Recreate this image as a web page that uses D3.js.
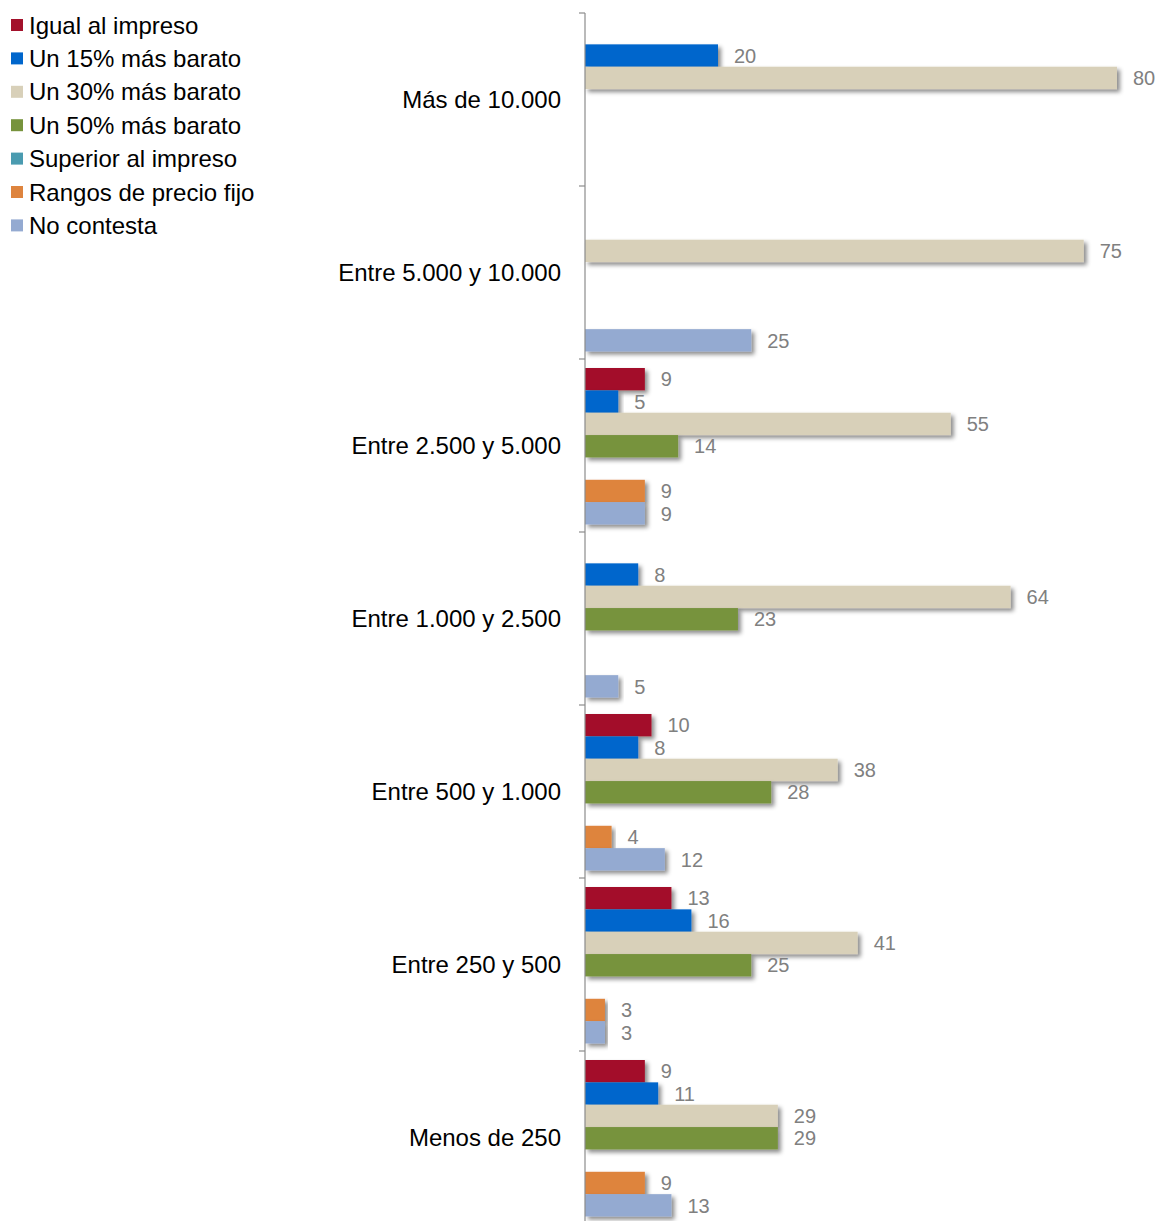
<!DOCTYPE html>
<html><head><meta charset="utf-8">
<script src="https://cdn.jsdelivr.net/npm/d3@7"></script>
<style>body{margin:0;background:#fff;}svg{display:block;font-family:"Liberation Sans",Arial,sans-serif;}</style>
</head><body>
<svg id="c" width="1159" height="1221"></svg>
<script>
const categories = ["Más de 10.000","Entre 5.000 y 10.000","Entre 2.500 y 5.000","Entre 1.000 y 2.500","Entre 500 y 1.000","Entre 250 y 500","Menos de 250"];
const seriesNames = ["Igual al impreso","Un 15% más barato","Un 30% más barato","Un 50% más barato","Superior al impreso","Rangos de precio fijo","No contesta"];
const seriesColors = ["#A3112B","#0066CC","#D8D0B9","#77933C","#4A9BB0","#DE843E","#94AAD1"];
const igualAlImpreso     = [null, null, 9, null, 10, 13, 9];
const un15MasBarato      = [20, null, 5, 8, 8, 16, 11];
const un30MasBarato      = [80, 75, 55, 64, 38, 41, 29];
const un50MasBarato      = [null, null, 14, 23, 28, 25, 29];
const superiorAlImpreso  = [null, null, null, null, null, null, null];
const rangosPrecioFijo   = [null, null, 9, null, 4, 3, 9];
const noContesta         = [null, 25, 9, 5, 12, 3, 13];
const seriesValues = [igualAlImpreso, un15MasBarato, un30MasBarato, un50MasBarato, superiorAlImpreso, rangosPrecioFijo, noContesta];

const svg = d3.select("#c");
const defs = svg.append("defs");
const f = defs.append("filter").attr("id","sh").attr("x","-5%").attr("y","-30%").attr("width","120%").attr("height","180%");
f.append("feDropShadow").attr("dx",3).attr("dy",3).attr("stdDeviation",2.2).attr("flood-color","#000").attr("flood-opacity",0.45);

const axisX = 585;
const y0 = d3.scaleBand().domain(categories).range([13, 1224]).padding(0);
const y1 = d3.scaleBand().domain(seriesNames).range([9, 165.5]).padding(0);
const x = d3.scaleLinear().domain([0, 80]).range([axisX, 1117]);

// bars
const g = svg.append("g");
categories.forEach((cat, ci) => {
  const cg = g.append("g").attr("transform", `translate(0,${y0(cat)})`);
  seriesNames.forEach((s, si) => {
    const v = seriesValues[si][ci];
    if (v == null) return;
    cg.append("rect")
      .attr("x", x(0)).attr("y", y1(s))
      .attr("width", x(v) - x(0)).attr("height", y1.bandwidth())
      .attr("fill", seriesColors[si]).attr("filter","url(#sh)");
  });
  seriesNames.forEach((s, si) => {
    const v = seriesValues[si][ci];
    if (v == null) return;
    cg.append("text")
      .attr("x", x(v) + 16).attr("y", y1(s) + y1.bandwidth()/2)
      .attr("dy","0.36em").attr("font-size", 20).attr("fill","#808080")
      .text(v);
  });
});

// axis
const ax = svg.append("g").attr("transform", `translate(${axisX},0)`);
ax.append("line").attr("x1",0).attr("x2",0).attr("y1",13).attr("y2",1221).attr("stroke","#8c8c8c").attr("stroke-width",1.2);
const bounds = categories.map(c => y0(c)).concat([y0.range()[1]]);
ax.selectAll("line.t").data(bounds).enter().append("line").attr("class","t")
  .attr("x1",-6).attr("x2",0).attr("y1",d=>d).attr("y2",d=>d).attr("stroke","#8c8c8c").attr("stroke-width",1.2);
svg.append("g").selectAll("text").data(categories).enter().append("text")
  .attr("x", 561).attr("y", d => y0(d) + y0.bandwidth()/2).attr("dy","0.36em")
  .attr("text-anchor","end").attr("font-size",24).attr("fill","#000").text(d=>d);

// legend
const lg = svg.append("g");
seriesNames.forEach((s, i) => {
  const yy = 25 + i * 33.4;
  lg.append("rect").attr("x",11).attr("y",yy-6).attr("width",12).attr("height",12).attr("fill",seriesColors[i]);
  lg.append("text").attr("x",29).attr("y",yy).attr("dy","0.36em").attr("font-size",24).attr("fill","#000").text(s);
});
</script>
</body></html>
